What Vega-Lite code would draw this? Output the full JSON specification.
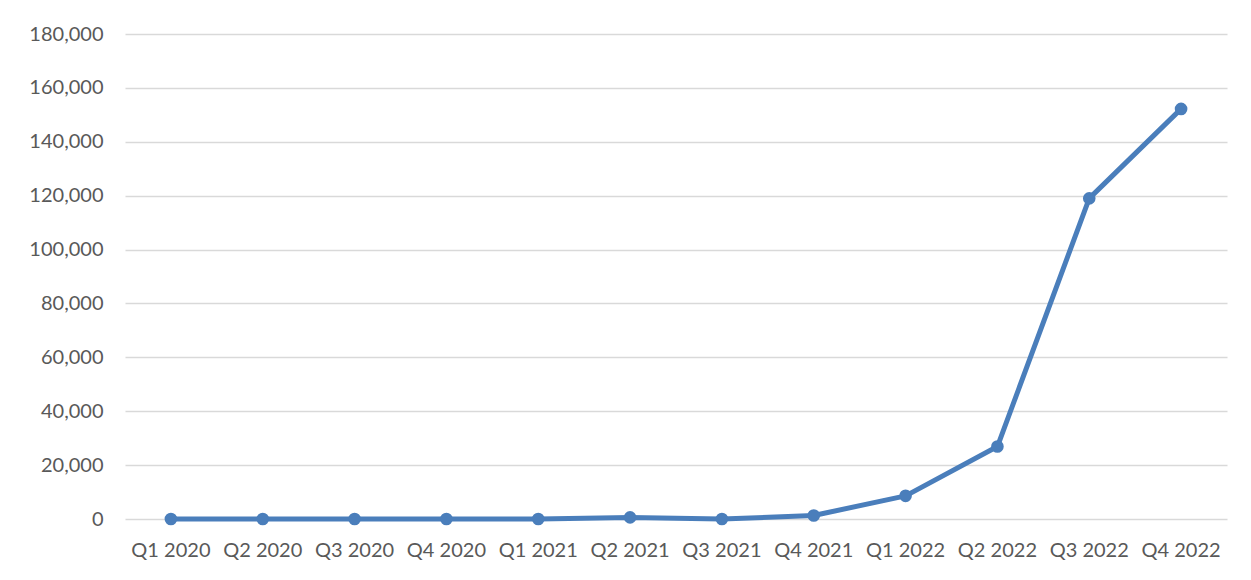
{
  "$schema": "https://vega.github.io/schema/vega-lite/v6.json",
  "autosize": {"type": "none"},
  "width": 1102,
  "height": 485,
  "padding": {"left": 125, "top": 34, "right": 24, "bottom": 61},
  "background": "white",
  "config": {
    "view": {"stroke": null},
    "font": "Lato"
  },
  "data": {
    "values": [
      {"quarter": "Q1 2020", "value": 0},
      {"quarter": "Q2 2020", "value": 0},
      {"quarter": "Q3 2020", "value": 0},
      {"quarter": "Q4 2020", "value": 0},
      {"quarter": "Q1 2021", "value": 0},
      {"quarter": "Q2 2021", "value": 600},
      {"quarter": "Q3 2021", "value": 0},
      {"quarter": "Q4 2021", "value": 1300},
      {"quarter": "Q1 2022", "value": 8600},
      {"quarter": "Q2 2022", "value": 26900},
      {"quarter": "Q3 2022", "value": 119000},
      {"quarter": "Q4 2022", "value": 152200}
    ]
  },
  "encoding": {
    "x": {
      "field": "quarter",
      "type": "ordinal",
      "sort": null,
      "scale": {"type": "band", "paddingInner": 0, "paddingOuter": 0},
      "axis": {
        "title": null,
        "labelAngle": 0,
        "domain": false,
        "ticks": false,
        "grid": false,
        "labelFont": "Lato",
        "labelFontSize": 20,
        "labelColor": "#595959",
        "labelPadding": 21
      }
    },
    "y": {
      "field": "value",
      "type": "quantitative",
      "scale": {"domain": [0, 180000], "nice": false},
      "axis": {
        "title": null,
        "values": [0, 20000, 40000, 60000, 80000, 100000, 120000, 140000, 160000, 180000],
        "format": ",d",
        "domain": false,
        "ticks": false,
        "grid": true,
        "gridColor": "#d9d9d9",
        "gridWidth": 1.5,
        "labelFont": "Lato",
        "labelFontSize": 20,
        "labelColor": "#595959",
        "labelPadding": 22
      }
    }
  },
  "layer": [
    {
      "mark": {"type": "line", "color": "#4a7ebb", "strokeWidth": 5, "strokeJoin": "round"}
    },
    {
      "mark": {"type": "point", "shape": "circle", "filled": true, "opacity": 1, "color": "#4a7ebb", "size": 160}
    }
  ]
}
